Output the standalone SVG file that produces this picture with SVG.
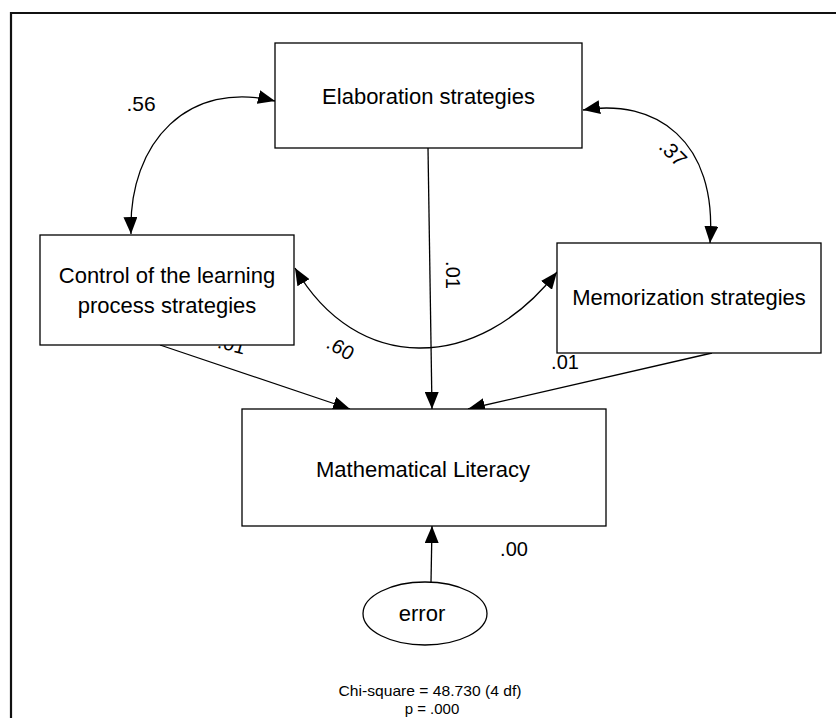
<svg xmlns="http://www.w3.org/2000/svg" width="836" height="718" viewBox="0 0 836 718">
<style>
.box{fill:#fff;stroke:#000;stroke-width:1.3}
.nt{font-family:"Liberation Sans",Arial,sans-serif;font-size:22px;fill:#000;text-anchor:middle}
.lb{font-family:"Liberation Sans",Arial,sans-serif;font-size:20px;fill:#000;text-anchor:middle}
.ft{font-family:"Liberation Sans",Arial,sans-serif;font-size:15px;fill:#000;text-anchor:middle}
.cn{fill:none;stroke:#000;stroke-width:1.3}
</style>
<defs>
<marker id="ah" markerUnits="userSpaceOnUse" markerWidth="18" markerHeight="14" refX="17" refY="7" orient="auto-start-reverse" viewBox="0 0 18 14">
<path d="M0,0 L17,7 L0,14 Z" fill="#000"/>
</marker>
</defs>
<rect width="836" height="718" fill="#fff"/>
<g id="frame">
<path d="M11,718 L11,13 L836,13" fill="none" stroke="#111" stroke-width="2.2"/>
</g>
<g id="connectors">
<path class="cn" d="M275,101 C190,80 128,140 131,234" marker-start="url(#ah)" marker-end="url(#ah)"/>
<path class="cn" d="M583,110 C655,98 718,140 710,243" marker-start="url(#ah)" marker-end="url(#ah)"/>
<path class="cn" d="M295,268 C356,374 477,374 557,272" marker-start="url(#ah)" marker-end="url(#ah)"/>
<line class="cn" x1="160" y1="345" x2="350" y2="409" marker-end="url(#ah)"/>
<line class="cn" x1="428" y1="148" x2="432" y2="409" marker-end="url(#ah)"/>
<line class="cn" x1="712" y1="353" x2="468" y2="409" marker-end="url(#ah)"/>
<line class="cn" x1="431" y1="582" x2="432" y2="526" marker-end="url(#ah)"/>
<text class="lb" x="141" y="111" style="font-size:21px">.56</text>
<text class="lb" transform="translate(668,158) rotate(45)" style="font-size:21px">.37</text>
<text class="lb" transform="translate(337,354) rotate(30)">.60</text>
<text class="lb" transform="translate(230,351) rotate(15)">.01</text>
<text class="lb" transform="translate(446,275) rotate(90)">.01</text>
<text class="lb" x="565" y="369">.01</text>
<text class="lb" x="514" y="556">.00</text>
</g>
<g id="elaboration">
<rect class="box" x="275" y="43" width="307" height="105"/>
<text class="nt" x="428.5" y="104">Elaboration strategies</text>
</g>
<g id="control">
<rect class="box" x="40" y="235" width="254" height="110"/>
<text class="nt" x="167" y="283">Control of the learning</text>
<text class="nt" x="167" y="313">process strategies</text>
</g>
<g id="memorization">
<rect class="box" x="557" y="243" width="264" height="110"/>
<text class="nt" x="689" y="305">Memorization strategies</text>
</g>
<g id="math">
<rect class="box" x="242" y="409" width="364" height="117"/>
<text class="nt" x="423" y="477">Mathematical Literacy</text>
</g>
<g id="error">
<ellipse class="box" cx="425" cy="613.5" rx="62" ry="31.5"/>
<text class="nt" x="422" y="621">error</text>
</g>
<g id="fit">
<text class="ft" x="430" y="696" textLength="183" lengthAdjust="spacingAndGlyphs">Chi-square = 48.730 (4 df)</text>
<text class="ft" x="432" y="714">p = .000</text>
</g>
</svg>
